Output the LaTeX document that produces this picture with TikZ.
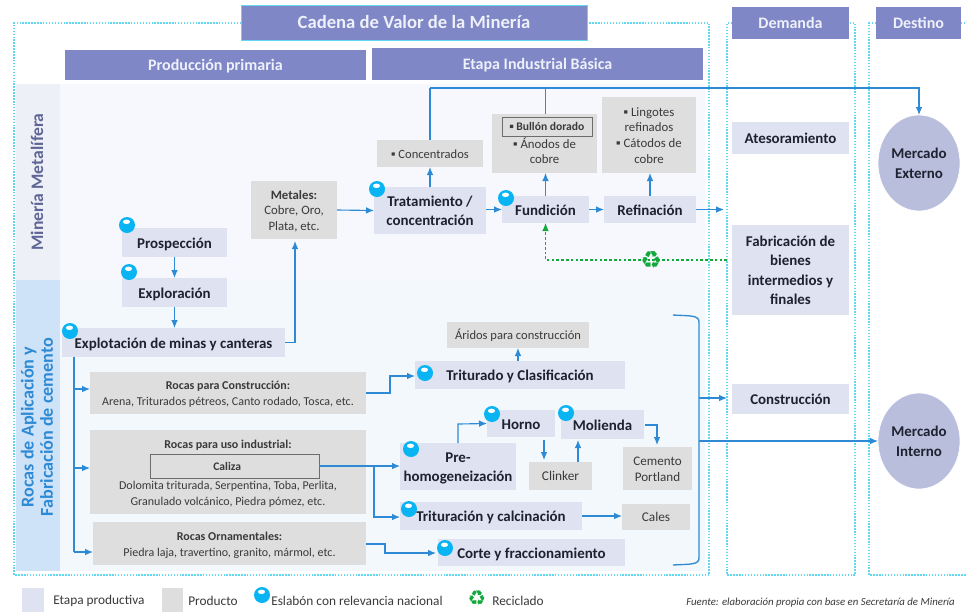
\documentclass[tikz,border=0pt]{standalone}
\usepackage{fontspec}
\setmainfont{Carlito}
\newfontfamily\symfont{DejaVu Sans}
\usetikzlibrary{shapes.geometric,arrows.meta,calc}
\definecolor{hdr}{HTML}{7F87C6}
\definecolor{hdrtxt}{HTML}{EEF0FA}
\definecolor{etapa}{HTML}{DFE2F1}
\definecolor{prodc}{HTML}{DEDEDE}
\definecolor{frame}{HTML}{62D8F0}
\definecolor{link}{HTML}{2E8AD4}
\definecolor{ballc}{HTML}{08B4F2}
\definecolor{recy}{HTML}{12A83C}
\definecolor{bandA}{HTML}{EEF0F8}
\definecolor{bandB}{HTML}{CFE3F8}
\definecolor{bgA}{HTML}{F7F8FD}
\definecolor{bgB}{HTML}{F3F8FD}
\definecolor{circ}{HTML}{B9BEDD}
\definecolor{txt}{HTML}{1E2230}
\definecolor{ptxt}{HTML}{3A3A3A}
\tikzset{
  x=0.75pt,y=-0.75pt,
  base/.style={inner sep=0pt,outer sep=0pt,align=center},
  header/.style={base,fill=hdr,text=hdrtxt,font=\fontsize{12}{14}\selectfont\bfseries},
  etapabox/.style={base,fill=etapa,text=txt,font=\fontsize{11.2}{14.6}\selectfont\bfseries},
  prodbox/.style={base,fill=prodc,text=ptxt,font=\fontsize{9.4}{11.8}\selectfont},
  rockbox/.style={base,fill=prodc,text=ptxt,font=\fontsize{9}{11.8}\selectfont},
  innerbox/.style={base,draw=gray!85!black,line width=0.7pt,fill=prodc,text=ptxt,font=\fontsize{8.7}{10}\selectfont\bfseries},
  dotframe/.style={draw=frame,line width=1.1pt,dash pattern=on 1.1pt off 1.1pt},
  conn/.style={draw=link,line width=0.85pt,-{Latex[length=6pt,width=5pt]}},
  connplain/.style={draw=link,line width=0.85pt},
  recyc/.style={draw=recy,line width=0.85pt,dash pattern=on 2pt off 1.6pt},
  market/.style={ellipse,base,fill=circ,draw=white,line width=0.5pt,text=txt,font=\fontsize{11.2}{15}\selectfont\bfseries},
  legendtxt/.style={inner sep=0pt,anchor=west,text=ptxt,font=\fontsize{10}{12}\selectfont},
}
\newcommand{\bx}[7]{\node[#1,minimum width={(#5-#3)*0.75pt},minimum height={(#6-#4)*0.75pt}] (#2) at ({(#3+#5)/2},{(#4+#6)/2}) {\raisebox{-1.2pt}[\height][\depth]{\begin{tabular}{@{}c@{}}#7\end{tabular}}};}
\newcommand{\ballat}[3]{%
  \node[circle,fill=ballc,minimum size=#3*1.5pt,inner sep=0pt] (#1) at (#2) {};
  \fill[white] ($(#1.center)+(-0.5,-3.2)$) ellipse (3.6 and 2.2);
}
\begin{document}
\begin{tikzpicture}
\useasboundingbox (0,0) rectangle (966,612);
\fill[white] (0,0) rectangle (966,612);
% backgrounds
\fill[bgA] (60,84) rectangle (705,280);
\fill[bgB] (60,280) rectangle (705,571);
\fill[bandA] (16,84) rectangle (60,280);
\fill[bandB] (16,280) rectangle (60,571);
% dotted frames
\coordinate (fa) at (14,23); \coordinate (fb) at (709,575);
\draw[dotframe] (241,23) -- (fa) -- (14,575) -- (fb) -- (709,23) -- (587,23);
\draw[dotframe] (732,23) -- (727,23) -- (727,575) -- (855,575) -- (855,23) -- (849,23);
\draw[dotframe] (876,23) -- (869,23) -- (869,575) -- (966,575);
\draw[dotframe] (961,23) -- (966,23);
% headers
\bx{header,font=\fontsize{14}{15}\selectfont\bfseries,draw=frame,line width=0.7pt}{title}{241}{5}{587}{40}{Cadena de Valor de la Minería}
\bx{header}{hprim}{65}{50}{366}{80}{Producción primaria}
\bx{header}{hind}{372}{48}{703}{80}{Etapa Industrial Básica}
\bx{header}{hdem}{732}{7}{849}{39}{Demanda}
\bx{header}{hdes}{876}{7}{961}{39}{Destino}
% band labels
\node[base,rotate=90,text=hdr!75!black,font=\fontsize{13.2}{14}\selectfont\bfseries] (lmet) at (37,182) {Minería Metalífera};
\node[base,rotate=90,text=link,font=\fontsize{13.6}{14.4}\selectfont\bfseries] (lroc) at (37,427) {Rocas de Aplicación y\\Fabricación de cemento};
% stages
\bx{etapabox}{prosp}{122}{228}{227}{257}{Prospección}
\bx{etapabox}{explo}{122}{278}{227}{307}{Exploración}
\bx{etapabox}{expl}{62}{328}{285}{357}{Explotación de minas y canteras}
\bx{etapabox}{trat}{374}{187}{486}{234}{Tratamiento /\\concentración}
\bx{etapabox}{fund}{502}{196}{589}{223}{Fundición}
\bx{etapabox}{refi}{604}{196}{696}{223}{Refinación}
\bx{etapabox}{ates}{732}{122}{849}{154}{Atesoramiento}
\bx{etapabox}{fabr}{732}{225}{849}{315}{Fabricación de\\bienes\\intermedios y\\finales}
\bx{etapabox}{cons}{732}{384}{849}{414}{Construcción}
\bx{etapabox}{triclas}{415}{361}{625}{389}{Triturado y Clasificación}
\bx{etapabox}{pre}{400}{443}{516}{490}{Pre-\\homogeneización}
\bx{etapabox}{horno}{487}{410}{555}{437}{Horno}
\bx{etapabox}{moli}{561}{410}{644}{439}{Molienda}
\bx{etapabox}{tricalc}{400}{502}{582}{530}{Trituración y calcinación}
\bx{etapabox}{corte}{438}{539}{625}{566}{Corte y fraccionamiento}
% products
\bx{prodbox,font=\fontsize{9.6}{11.6}\selectfont}{meta}{251}{181}{337}{239}{\textbf{Metales:}\\Cobre, Oro,\\Plata, etc.}
\bx{prodbox}{conc}{377}{140}{483}{167}{▪ Concentrados}
\bx{prodbox,font=\fontsize{9.6}{11.8}\selectfont}{bull}{492}{114}{597}{173}{\mbox{}\\▪ Ánodos de\\cobre}
\bx{innerbox}{bulli}{502}{117}{592}{136}{▪ Bullón dorado}
\bx{prodbox,font=\fontsize{9.6}{11.8}\selectfont}{ling}{602}{97}{696}{173}{▪ Lingotes\\refinados\\▪ Cátodos de\\cobre}
\bx{prodbox}{arid}{447}{322}{589}{348}{Áridos para construcción}
\bx{rockbox}{rcons}{90}{372}{366}{414}{\textbf{Rocas para Construcción:}\\Arena, Triturados pétreos, Canto rodado, Tosca, etc.}
\bx{rockbox}{ruso}{90}{430}{366}{514}{\textbf{Rocas para uso industrial:}\\[19pt]Dolomita triturada, Serpentina, Toba, Perlita,\\Granulado volcánico, Piedra pómez, etc.}
\bx{innerbox}{cali}{150}{454}{319}{478}{Caliza\hspace*{11pt}}
\bx{rockbox}{rorn}{93}{522}{366}{565}{\textbf{Rocas Ornamentales:}\\Piedra laja, travertino, granito, mármol, etc.}
\bx{prodbox,font=\fontsize{10}{11.8}\selectfont}{clin}{529}{462}{592}{490}{Clinker}
\bx{prodbox,font=\fontsize{9.8}{12}\selectfont}{ceme}{623}{447}{692}{490}{Cemento\\Portland}
\bx{prodbox,font=\fontsize{10}{11.8}\selectfont}{cale}{622}{504}{690}{530}{Cales}
% markets
\node[market,minimum width=61.5pt,minimum height=72pt] (mext) at (919,163) {Mercado\\Externo};
\node[market,minimum width=61.5pt,minimum height=72pt] (mint) at (919,441) {Mercado\\Interno};
% connectors
\draw[conn] (prosp.south) -- (explo.north);
\draw[conn] (explo.south) -- (explo.south |- expl.north);
\draw[conn] (expl.east) -- (295,342.5) -- (295,241);
\draw[conn] (meta.east) -- (trat.west);
\draw[conn] (trat.north) -- (trat.north |- conc.south);
\draw[connplain] (conc.north -| trat.north) -- (trat.north |- 0,88) coordinate (topl);
\draw[conn] (topl) -- (mext.north |- topl) -- (mext.north);
\draw[connplain] (fund.north |- bull.north) -- (fund.north |- topl);
\draw[conn] (trat.east |- fund.east) -- (fund.west);
\draw[conn] (fund.north) -- (fund.north |- bull.south);
\draw[conn] (fund.east) -- (refi.west);
\draw[conn] (refi.north) -- (refi.north |- ling.south);
\draw[conn] (refi.east) -- (724,209.5);
\draw[recyc,-{Latex[length=6pt,width=5pt]}] (727,260) -- (545.5,260) -- (fund.south);
\draw[connplain] (74,357) -- (74,552);
\draw[conn] (74,389) -- (rcons.west |- 0,389);
\draw[conn] (74,468) -- (ruso.west |- 0,468);
\draw[conn] (74,552) -- (rorn.west |- 0,552);
\draw[conn] (366,393) -- (390,393) -- (390,376) -- (triclas.west |- 0,376);
\draw[conn] (cali.east) -- (pre.west |- cali.east);
\draw[conn] (374,466) -- (374,517) -- (tricalc.west |- 0,517);
\draw[conn] (rorn.east |- 0,544) -- (385,544) -- (385,553) -- (436,553);
\draw[conn] (triclas.north -| arid.south) -- (arid.south);
\draw[conn] (458,443) -- (458,424) -- (horno.west);
\draw[conn] (544,440) -- (544,460);
\draw[conn] (578,462) -- (578,440);
\draw[conn] (645,425) -- (657,425) -- (657,445);
\draw[conn] (tricalc.east) -- (cale.west |- tricalc.east);
\draw[connplain,line width=1pt] (673,315) .. controls (690,316) and (699,315) .. (699,322) -- (699,558) .. controls (699,565) and (690,564) .. (673,565);
\draw[conn] (699,398) -- (727,398);
\draw[conn] (699,441) -- (mint.west);
% recycling mark
\node[base,text=recy,font=\symfont\fontsize{18}{18}\selectfont\bfseries] (rmark) at (651,260) {♻};
% relevance balls
\ballat{b1}{127,225}{8}
\ballat{b2}{129,272}{8}
\ballat{b3}{70,331}{8}
\ballat{b4}{377,189}{8}
\ballat{b5}{506,198}{8}
\ballat{b6}{425,373}{8}
\ballat{b7}{411,449}{8}
\ballat{b8}{409,509}{8}
\ballat{b9}{445,548}{8}
\ballat{b10}{492,414}{8}
\ballat{b11}{566,413}{8}
% legend
\bx{base,fill=etapa}{lg1}{22}{588}{44}{612}{}
\node[legendtxt] (lg1t) at (53,601) {Etapa productiva};
\bx{base,fill=prodc}{lg2}{162}{588}{183}{612}{}
\node[legendtxt] (lg2t) at (188,601) {Producto};
\ballat{lg3}{262,595}{8}
\node[legendtxt] (lg3t) at (271,601) {Eslabón con relevancia nacional};
\node[base,text=recy,font=\symfont\fontsize{15.5}{16}\selectfont\bfseries] (lg4) at (477,598) {♻};
\node[legendtxt] (lg4t) at (492,601) {Reciclado};
\node[inner sep=0pt,anchor=west,text=ptxt,font=\fontsize{8.1}{10}\selectfont\itshape] (src) at (686,603) {Fuente: elaboración propia con base en Secretaría de Minería};
\end{tikzpicture}
\end{document}
